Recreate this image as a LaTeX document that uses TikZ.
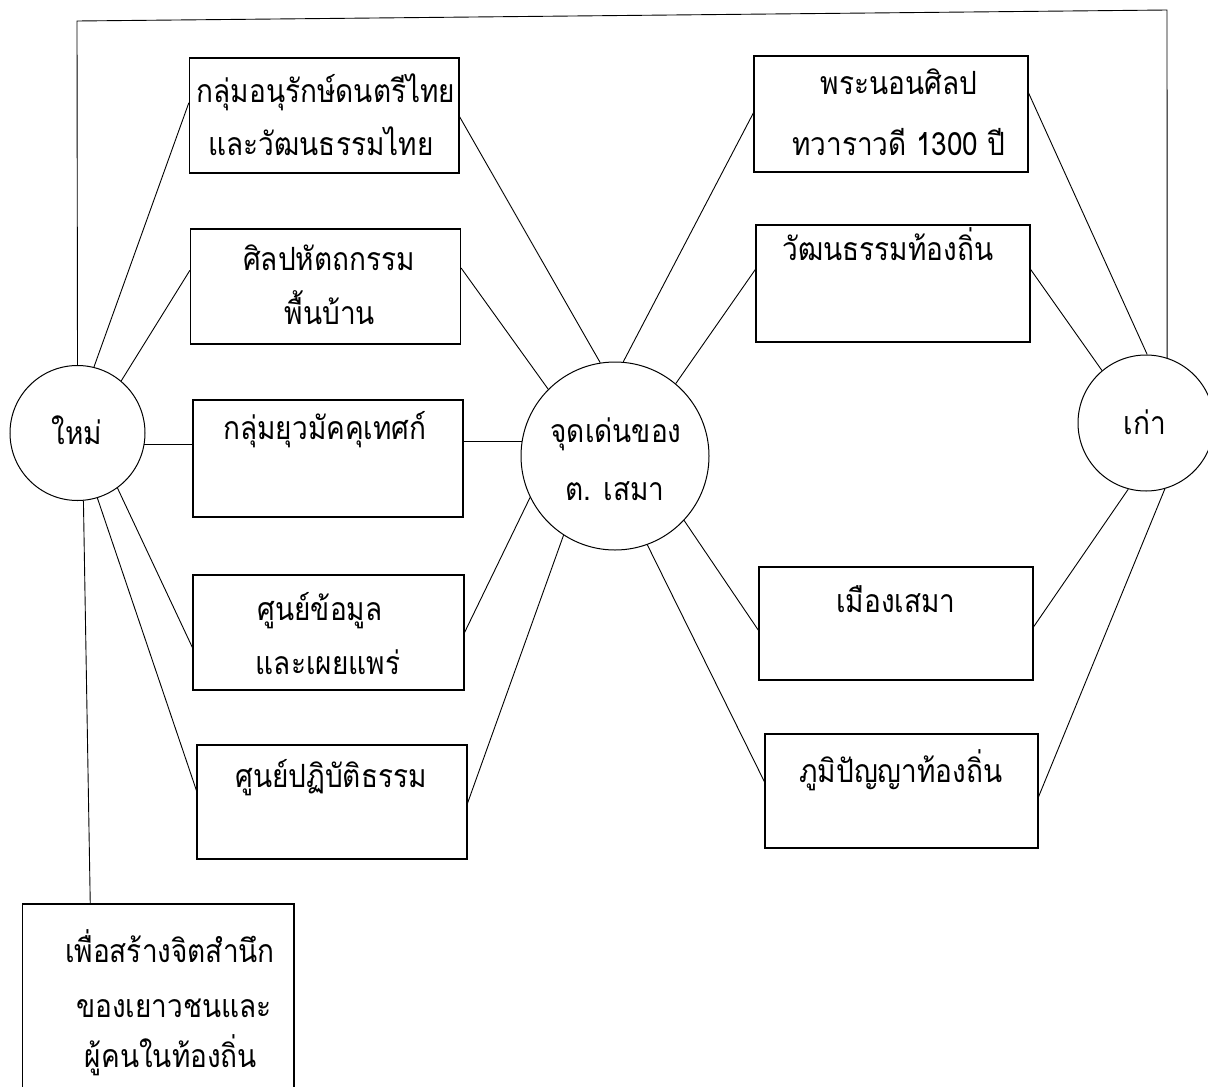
\documentclass[tikz,border=0pt]{standalone}
\usepackage{fontspec}
\newfontfamily\thai[Script=Thai,FakeStretch=0.875]{Loma}
\usetikzlibrary{calc}
\begin{document}
\begin{tikzpicture}[x=1pt,y=-1pt,
  box/.style={draw, line width=1.1pt, inner sep=0pt},
  circ/.style={draw, circle, line width=1pt, inner sep=0pt},
  lbl/.style={anchor=mid, inner sep=0pt, yshift=-5pt, font=\thai\fontsize{32}{38}\selectfont},
  conn/.style={line width=0.9pt}]
\useasboundingbox (0,0) rectangle (1208,1087);
% circles
\node[circ, minimum size=135pt] (L) at (77.5,433) {};
\node[circ, minimum size=188pt] (C) at (615,456) {};
\node[circ, minimum size=136pt] (R) at (1146,423) {};
% left boxes
\node[box, minimum width=269.6pt, minimum height=115pt] (b1) at (324.2,115.5) {};
\node[box, minimum width=270pt, minimum height=115pt] (b2) at (325.5,286.5) {};
\node[box, minimum width=270pt, minimum height=117pt] (b3) at (328,458.5) {};
\node[box, minimum width=271pt, minimum height=115pt] (b4) at (328.5,632.5) {};
\node[box, minimum width=270pt, minimum height=114pt] (b5) at (332,802) {};
% right boxes
\node[box, minimum width=274pt, minimum height=116pt] (r1) at (891,114) {};
\node[box, minimum width=274pt, minimum height=117pt] (r2) at (893,283.5) {};
\node[box, minimum width=274pt, minimum height=113pt] (r3) at (896,623.5) {};
\node[box, minimum width=273pt, minimum height=114pt] (r4) at (901.5,791) {};
% bottom box (its lower edge lies below the page)
\node[box, minimum width=271.3pt, minimum height=200pt] (bt) at (158.35,1004) {};
% texts
\node[lbl] (tL) at (77,437) {ใหม่};
\node[lbl] (tC1) at (616,435) {จุดเด่นของ};
\node[lbl] (tC2) at (615,493) {ต. เสมา};
\node[lbl] (tR) at (1145,427) {เก่า};
\node[lbl] (t1a) at (326,95) {กลุ่มอนุรักษ์ดนตรีไทย};
\node[lbl] (t1b) at (321,148) {และวัฒนธรรมไทย};
\node[lbl] (t2a) at (329,263) {ศิลปหัตถกรรม};
\node[lbl] (t2b) at (330,317) {พื้นบ้าน};
\node[lbl] (t3) at (325,432) {กลุ่มยุวมัคคุเทศก์};
\node[lbl] (t4a) at (320,613) {ศูนย์ข้อมูล};
\node[lbl] (t4b) at (328,667) {และเผยแพร่};
\node[lbl] (t5) at (331,780) {ศูนย์ปฏิบัติธรรม};
\node[lbl] (u1a) at (899,87) {พระนอนศิลป};
\node[lbl] (u1b) at (899,148) {ทวาราวดี 1300 ปี};
\node[lbl] (u2) at (888,253) {วัฒนธรรมท้องถิ่น};
\node[lbl] (u3) at (896,605) {เมืองเสมา};
\node[lbl] (u4) at (901,775) {ภูมิปัญญาท้องถิ่น};
\node[lbl] (v1) at (170,955) {เพื่อสร้างจิตสำนึก};
\node[lbl] (v2) at (174,1010) {ของเยาวชนและ};
\node[lbl] (v3) at (171,1060) {ผู้คนในท้องถิ่น};
% frame
\coordinate (tl) at (77,21);
\coordinate (tr) at (1167,10);
\draw[conn] (L.north) -- (tl) -- (tr) -- (R.72);
% left circle connectors
\draw[conn] (L.76) -- ($(b1.north west)!0.39!(b1.south west)$);
\draw[conn] (L.50) -- ($(b2.north west)!0.36!(b2.south west)$);
\draw[conn] (L.-10) -- (L.-10 -| b3.west);
\draw[conn] (L.-54) -- ($(b4.north west)!0.63!(b4.south west)$);
\draw[conn] (L.-73) -- ($(b5.north west)!0.40!(b5.south west)$);
\draw[conn] (L.-85) -- ($(bt.north west)!0.25!(bt.north east)$);
% to centre circle
\draw[conn] ($(b1.north east)!0.51!(b1.south east)$) -- (C.99);
\draw[conn] ($(b2.north east)!0.34!(b2.south east)$) -- (C.135);
\draw[conn] (C.171 -| b3.east) -- (C.171);
\draw[conn] ($(b4.north east)!0.5!(b4.south east)$) -- (C.206);
\draw[conn] ($(b5.north east)!0.51!(b5.south east)$) -- (C.237);
% centre to right boxes
\draw[conn] (C.85) -- ($(r1.north west)!0.49!(r1.south west)$);
\draw[conn] (C.50) -- ($(r2.north west)!0.38!(r2.south west)$);
\draw[conn] (C.-43) -- ($(r3.north west)!0.56!(r3.south west)$);
\draw[conn] (C.-70) -- ($(r4.north west)!0.42!(r4.south west)$);
% right boxes to right circle
\draw[conn] ($(r1.north east)!0.32!(r1.south east)$) -- (R.89);
\draw[conn] ($(r2.north east)!0.38!(r2.south east)$) -- (R.130);
\draw[conn] ($(r3.north east)!0.53!(r3.south east)$) -- (R.255);
\draw[conn] ($(r4.north east)!0.55!(r4.south east)$) -- (R.286);
\end{tikzpicture}
\end{document}
